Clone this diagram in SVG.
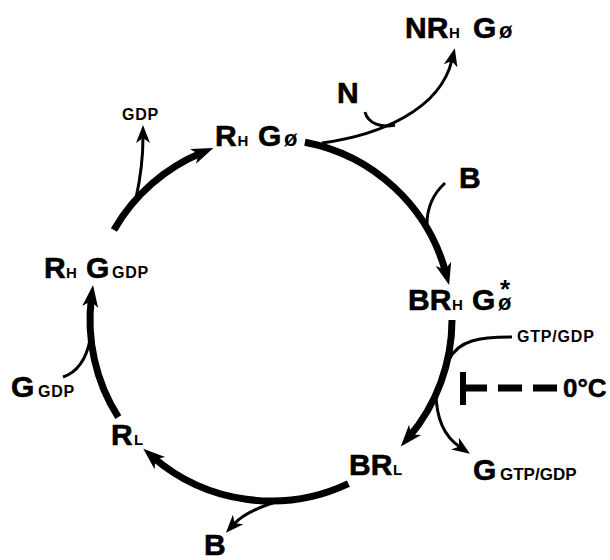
<svg xmlns="http://www.w3.org/2000/svg" width="610" height="560" viewBox="0 0 610 560">
<style>
  text { font-family: "Liberation Sans", Arial, sans-serif; font-weight: bold; fill: #000; }
  .big { font-size: 30px; stroke: #000; stroke-width: 0.6px; }
  .sub { font-size: 15px; }
  .sm { font-size: 16px; letter-spacing: 0.8px; }
  .o { font-size: 22px; }
  .thick { fill: none; stroke: #000; stroke-width: 7; }
  .thin { fill: none; stroke: #000; stroke-width: 3; }
</style>
<defs>
  <marker id="ahThick" markerUnits="userSpaceOnUse" markerWidth="24" markerHeight="18" viewBox="0 -9 24 18" refX="10" refY="0" orient="auto">
    <path d="M0,-8 L22,0 L0,8 L6,0 z" fill="#000"/>
  </marker>
  <marker id="ahThin" markerUnits="userSpaceOnUse" markerWidth="20" markerHeight="16" viewBox="0 -8 20 16" refX="6" refY="0" orient="auto">
    <path d="M0,-7 L18,0 L0,7 L5,0 z" fill="#000"/>
  </marker>
</defs>
<rect width="610" height="560" fill="#fff"/>

<g id="connectors">
  <path class="thick" d="M304.9,142.2 A181,181 0 0 1 446,273.5" marker-end="url(#ahThick)"/>
  <path class="thick" d="M452,320 A181,181 0 0 1 408.6,437.5" marker-end="url(#ahThick)"/>
  <path class="thick" d="M348.4,483.6 A181,181 0 0 1 152.3,456.6" marker-end="url(#ahThick)"/>
  <path class="thick" d="M118.3,417.2 A181,181 0 0 1 91.5,297" marker-end="url(#ahThick)"/>
  <path class="thick" d="M113.9,230 A181,181 0 0 1 202.3,152.5" marker-end="url(#ahThick)"/>
  <path class="thin" d="M136,198 C140,180 143,160 143,137" marker-end="url(#ahThin)"/>
  <path class="thin" d="M322,143 C380,135 440,110 452,60" marker-end="url(#ahThin)"/>
  <path class="thin" d="M365,112 C368,124 382,128 395,125"/>
  <path class="thin" d="M445,183 C432,195 427,210 427,224"/>
  <path class="thin" d="M449,360 C458,340 480,337 512,337"/>
  <path class="thin" d="M436,392 C436,420 445,437 460,447" marker-end="url(#ahThin)"/>
  <path class="thin" d="M282,500 C265,505 245,512 234,524" marker-end="url(#ahThin)"/>
  <path class="thin" d="M63,377 C78,372 86,360 90,340"/>
  <rect x="460" y="372" width="6" height="33" fill="#000"/>
  <line x1="463" y1="388" x2="557" y2="388" stroke="#000" stroke-width="7" stroke-dasharray="24 11"/>
</g>

<g id="node-RHG0">
  <text y="146"><tspan class="big" x="215">R</tspan><tspan class="sub" x="237.5">H</tspan><tspan class="big" x="258">G</tspan><tspan class="o" x="284">ø</tspan></text>
</g>
<g id="node-NRHG0">
  <text y="38"><tspan class="big" x="405">NR</tspan><tspan class="sub" x="449">H</tspan><tspan class="big" x="473">G</tspan><tspan class="o" x="499">ø</tspan></text>
</g>
<g id="node-N">
  <text class="big" x="337" y="103">N</text>
</g>
<g id="node-B-top">
  <text class="big" x="459" y="188">B</text>
</g>
<g id="node-BRHG0star">
  <text y="310"><tspan class="big" x="408">BR</tspan><tspan class="sub" x="452">H</tspan><tspan class="big" x="472">G</tspan><tspan class="o" x="498">ø</tspan><tspan x="500" y="298" font-size="26">*</tspan></text>
</g>
<g id="node-GTPGDP">
  <text class="sm" x="517" y="342" letter-spacing="1.6">GTP/GDP</text>
</g>
<g id="node-0C">
  <text x="563" y="397" font-size="26" stroke="#000" stroke-width="0.5">0°C</text>
</g>
<g id="node-GGTPGDP">
  <text y="480"><tspan class="big" x="473">G</tspan><tspan x="500" font-size="17">GTP/GDP</tspan></text>
</g>
<g id="node-BRL">
  <text y="475"><tspan class="big" x="349">BR</tspan><tspan class="sub" x="393">L</tspan></text>
</g>
<g id="node-B-bottom">
  <text class="big" x="204" y="555">B</text>
</g>
<g id="node-RL">
  <text y="445"><tspan class="big" x="111">R</tspan><tspan class="sub" x="134">L</tspan></text>
</g>
<g id="node-GGDP">
  <text y="397"><tspan class="big" x="11">G</tspan><tspan class="sm" x="38">GDP</tspan></text>
</g>
<g id="node-RHGGDP">
  <text y="278"><tspan class="big" x="44">R</tspan><tspan class="sub" x="66">H</tspan><tspan class="big" x="86">G</tspan><tspan class="sm" x="112">GDP</tspan></text>
</g>
<g id="node-GDP-top">
  <text class="sm" x="122" y="120" letter-spacing="1.5">GDP</text>
</g>
</svg>
